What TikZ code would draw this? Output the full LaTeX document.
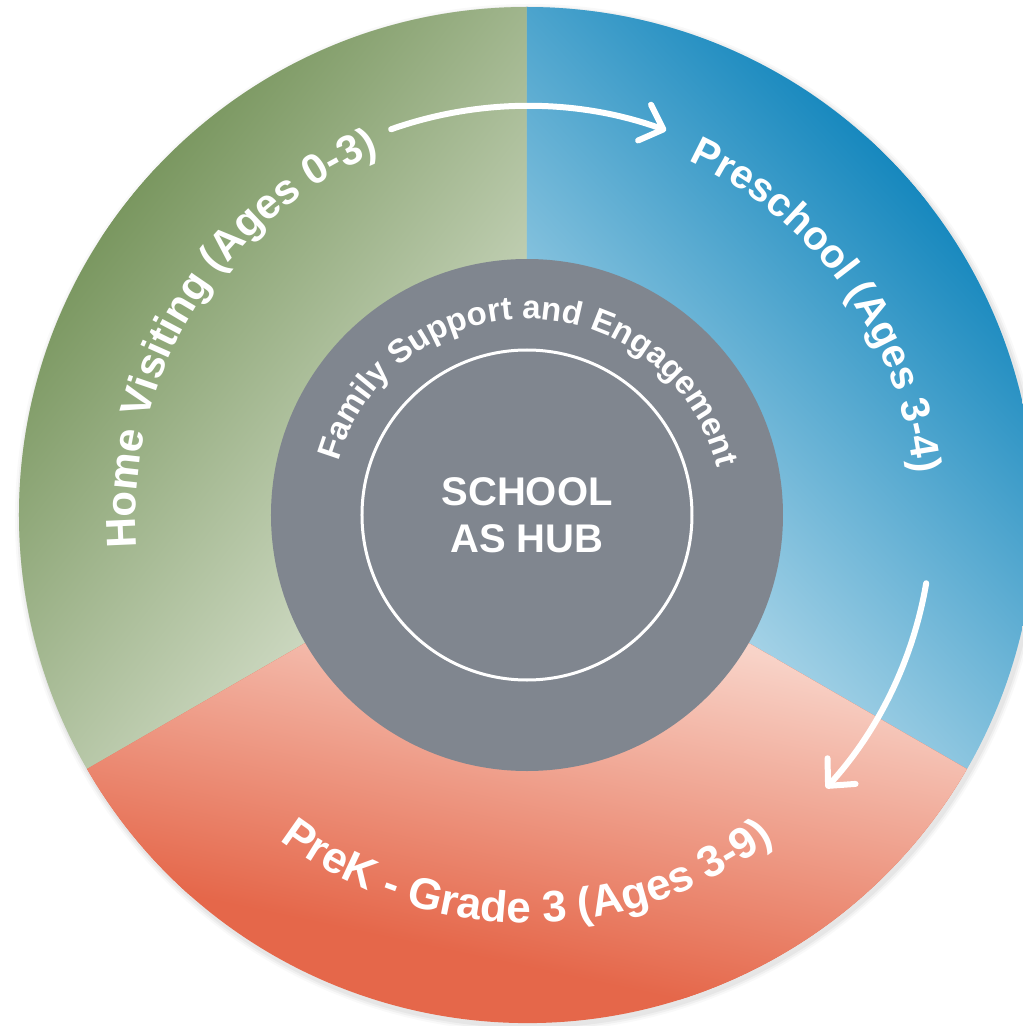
\documentclass[tikz,border=0pt]{standalone}
\usepackage{fontspec}
\setsansfont{Liberation Sans}
\usetikzlibrary{decorations.text,arrows.meta}
\definecolor{gdark}{HTML}{7A9760}
\definecolor{glight}{HTML}{CBD7BF}
\definecolor{bdark}{HTML}{1788BE}
\definecolor{blight}{HTML}{AAD5E8}
\definecolor{rlight}{HTML}{F8D3C8}
\definecolor{rdark}{HTML}{E5674A}
\definecolor{hubgray}{HTML}{80868F}
\tikzset{
  arrowline/.style={white, line width=6pt, line cap=round,
    -{Straight Barb[length=20pt, width=38pt, round]}},
  arctext/.style={decorate, decoration={text along path, text align=center,
    text color=white, text={#1}}},
}
\newcommand{\arcfont}[1]{\sffamily\bfseries\fontsize{#1}{#1}\selectfont}
\begin{document}
\begin{tikzpicture}[x=1pt,y=1pt]
\useasboundingbox (-527,-511) rectangle (496,515);
\clip (-527,-511) rectangle (496,515);
% soft shadow
\foreach \r/\o in {514/0.025, 512/0.035, 510/0.045}{
  \fill[black, opacity=\o] (2,-3) circle (\r);
}
% green sector
\begin{scope}
  \clip (0,0) -- (90:508) arc[start angle=90, end angle=210, radius=508] -- cycle;
  \begin{scope}[transform canvas={rotate=-38}]
    \fill[glight] (-700,-800) rectangle (700,800);
    \fill[gdark] (-700,-800) rectangle (-506,800);
    \shade[left color=gdark, right color=glight] (-508,-800) rectangle (-95,800);
  \end{scope}
\end{scope}
% blue sector
\begin{scope}
  \clip (0,0) -- (90:508) arc[start angle=90, end angle=-30, radius=508] -- cycle;
  \begin{scope}[transform canvas={rotate=223}]
    \fill[blight] (-700,-800) rectangle (700,800);
    \fill[bdark] (-700,-800) rectangle (-506,800);
    \shade[left color=bdark, right color=blight] (-508,-800) rectangle (-56,800);
  \end{scope}
\end{scope}
% red sector
\begin{scope}
  \clip (0,0) -- (210:508) arc[start angle=210, end angle=330, radius=508] -- cycle;
  \begin{scope}[transform canvas={rotate=258}]
    \fill[rdark] (-700,-800) rectangle (700,800);
    \fill[rlight] (-700,-800) rectangle (89,800);
    \shade[left color=rlight, right color=rdark] (87,-800) rectangle (442,800);
  \end{scope}
\end{scope}
% hub
\fill[hubgray] (0,0) circle (256);
\draw[white, line width=3pt] (0,0) circle (165);
\node[align=center, text=white, font=\arcfont{40}\fontsize{40}{47}\selectfont] (hub) at (0,0) {SCHOOL\\AS HUB};
% texts along arcs
\path[arctext={|\arcfont{42}|Home Visiting (Ages 0-3)}]
  (208.5:391) arc[start angle=208.5, end angle=88.5, radius=391];
\path[arctext={|\arcfont{40.5}|Preschool (Ages 3-4)}]
  (95.8:389) arc[start angle=95.8, end angle=-24.2, radius=389];
\path[arctext={|\arcfont{44}|PreK - Grade 3 (Ages 3-9)}]
  (210:408) arc[start angle=210, end angle=330, radius=408];
\path[arctext={|\arcfont{33}|Family Support and Engagement}]
  (189:196) arc[start angle=189, end angle=-11, radius=196];
% arrows
\draw[arrowline] (109.4:409) arc[start angle=109.4, end angle=70.1, radius=409];
\draw[arrowline] (-9.7:405) arc[start angle=-9.7, end angle=-42.4, radius=405];
\end{tikzpicture}
\end{document}
